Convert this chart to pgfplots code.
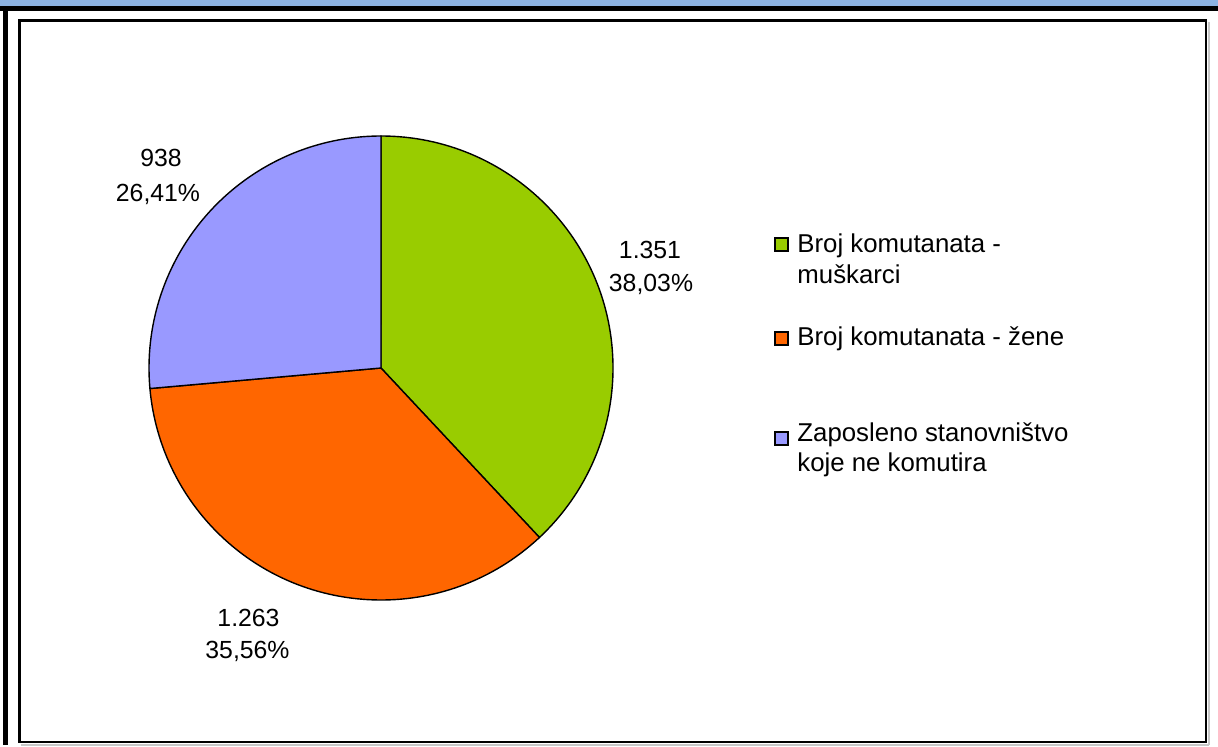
\documentclass[border=0pt]{standalone}
\usepackage{pgfplots}
\pgfplotsset{compat=1.18}
\usepackage{pgfplotstable}
\usepackage{fontspec}
\setmainfont{Liberation Sans}
\definecolor{cgreen}{HTML}{99CC00}
\definecolor{corange}{HTML}{FF6600}
\definecolor{cpurple}{HTML}{9999FF}
\definecolor{cbar}{HTML}{8DB3E2}
\definecolor{cshadow}{HTML}{C8C8C8}

\pgfplotstableread{
value
1351
1263
938
}\piedata

\pgfplotstablegetelem{0}{value}\of\piedata \let\va\pgfplotsretval
\pgfplotstablegetelem{1}{value}\of\piedata \let\vb\pgfplotsretval
\pgfplotstablegetelem{2}{value}\of\piedata \let\vc\pgfplotsretval
\pgfmathsetmacro{\total}{\va+\vb+\vc}
\pgfmathsetmacro{\fa}{\va/\total}
\pgfmathsetmacro{\fb}{\vb/\total}
\pgfmathsetmacro{\fc}{\vc/\total}
\pgfmathsetmacro{\aA}{90}
\pgfmathsetmacro{\aB}{90-360*\fa}
\pgfmathsetmacro{\aC}{\aB-360*\fb}
\pgfmathsetmacro{\aD}{\aC-360*\fc}

\tikzset{
  lbl/.style={anchor=base, inner sep=0pt, font=\fontsize{12.4pt}{15pt}\selectfont},
  leg/.style={anchor=base west, inner sep=0pt, font=\fontsize{12.9pt}{15pt}\selectfont},
}

\begin{document}
\begin{tikzpicture}
\begin{axis}[
  scale only axis, width=609pt, height=372.5pt,
  xmin=0, xmax=1218, ymin=-745, ymax=0,
  axis lines=none, clip=false,
]
% top bar and outer frame
\fill[cbar] (axis cs:0,0) rectangle (axis cs:1218,-6);
\fill[black] (axis cs:0,-6) rectangle (axis cs:1218,-11);
\fill[black] (axis cs:3,-6) rectangle (axis cs:8,-745);
% inner frame with shadow
\draw[cshadow, line width=1pt] (axis cs:1209,-22) -- (axis cs:1209,-745);
\draw[cshadow, line width=1pt] (axis cs:21,-745) -- (axis cs:1209,-745);
\draw[black, line width=1.3pt] (axis cs:19.5,-20.5) rectangle (axis cs:1206,-742);
% pie
\filldraw[fill=cgreen, draw=black, line width=0.7pt] (axis cs:381,-368) -- ++(\aA:116pt) arc[start angle=\aA, end angle=\aB, radius=116pt] -- cycle;
\filldraw[fill=corange, draw=black, line width=0.7pt] (axis cs:381,-368) -- ++(\aB:116pt) arc[start angle=\aB, end angle=\aC, radius=116pt] -- cycle;
\filldraw[fill=cpurple, draw=black, line width=0.7pt] (axis cs:381,-368) -- ++(\aC:116pt) arc[start angle=\aC, end angle=\aD, radius=116pt] -- cycle;
% labels
\node[lbl] at (axis cs:650,-258) {1.351};
\node[lbl] at (axis cs:651,-291.5) {38,03\%};
\node[lbl] at (axis cs:248.5,-626) {1.263};
\node[lbl] at (axis cs:247.5,-658.5) {35,56\%};
\node[lbl] at (axis cs:161,-166.5) {938};
\node[lbl] at (axis cs:158,-201.5) {26,41\%};
% legend
\filldraw[fill=cgreen, draw=black, line width=0.6pt] (axis cs:775,-238) rectangle (axis cs:788,-251);
\filldraw[fill=corange, draw=black, line width=0.6pt] (axis cs:775,-332) rectangle (axis cs:788,-345);
\filldraw[fill=cpurple, draw=black, line width=0.6pt] (axis cs:775,-432) rectangle (axis cs:788,-445);
\node[leg] at (axis cs:797,-252.5) {Broj komutanata -};
\node[leg] at (axis cs:797,-283.5) {muškarci};
\node[leg] at (axis cs:797,-345) {Broj komutanata - žene};
\node[leg] at (axis cs:797,-441.5) {Zaposleno stanovništvo};
\node[leg] at (axis cs:797,-471) {koje ne komutira};
\end{axis}
\end{tikzpicture}
\end{document}
